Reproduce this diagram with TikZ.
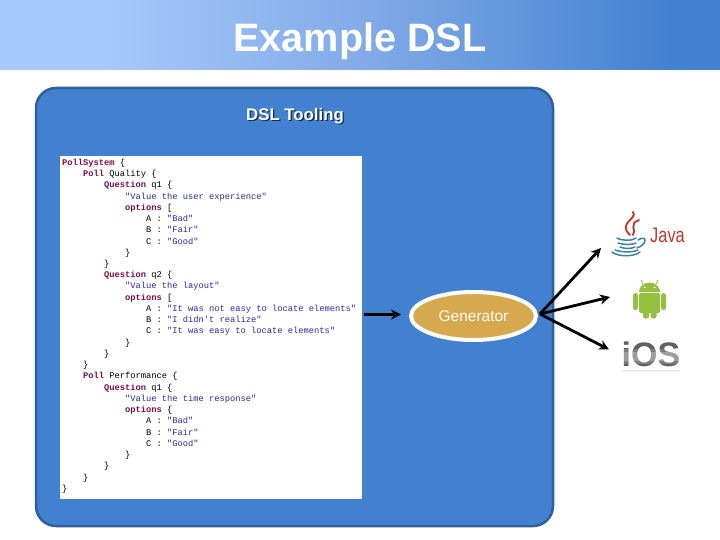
\documentclass[tikz,border=0pt]{standalone}
\usepackage{fontspec}
\setmainfont{Liberation Sans}
\setmonofont{Liberation Mono}
\usetikzlibrary{arrows.meta,shapes.geometric}
\definecolor{panelblue}{HTML}{4280D0}
\definecolor{paneledge}{HTML}{2F5F9C}
\definecolor{barlight}{HTML}{A6C9FB}
\definecolor{barmid}{HTML}{82ABE8}
\definecolor{kwcol}{HTML}{7A0F50}
\definecolor{strcol}{HTML}{2A2AA5}
\definecolor{gold}{HTML}{D7A94F}
\definecolor{droid}{HTML}{95BF3E}
\definecolor{javared}{HTML}{C0392B}
\definecolor{javablue}{HTML}{3F7F9F}
\pgfdeclarehorizontalshading{titlebar}{100bp}{color(0bp)=(barlight); color(25bp)=(barlight); color(32bp)=(barlight); color(50bp)=(barmid); color(72bp)=(panelblue); color(100bp)=(panelblue)}
\newcommand{\kw}[1]{\textcolor{kwcol}{\bfseries #1}}
\newcommand{\st}[1]{\textcolor{strcol}{#1}}
\newcommand{\ind}[1]{\hspace*{#1\dimexpr 21pt\relax}}
\tikzset{
  conn/.style={draw=black,line width=2.8pt,-{Stealth[length=10pt,width=10pt]}},
  codetext/.style={font=\ttfamily\fontsize{8.75pt}{11.24pt}\selectfont,align=left,inner sep=0pt,anchor=north west},
  steam/.style={draw=javared,line width=1.9pt,line cap=round},
  cupline/.style={draw=javablue,line width=1.5pt,line cap=round},
  droidpart/.style={fill=droid,draw=none}
}
\begin{document}
\begin{tikzpicture}[x=1pt,y=-1pt]
\useasboundingbox (0,0) rectangle (720,540);
\fill[white] (0,0) rectangle (720,540);
\shade[shading=titlebar] (0,0) rectangle (720,70);
\node[font=\bfseries\fontsize{39.6pt}{44pt}\selectfont,text=white,inner sep=0pt] (title) at (360,41) {Example DSL};
\draw[fill=panelblue,draw=paneledge,line width=2.5pt,rounded corners=20pt] (36,88) rectangle (553,526);
\node[font=\bfseries\fontsize{16.8pt}{20pt}\selectfont,text=white,inner sep=0pt] (tooling) at (295,117)
  {\rlap{\raisebox{-1.3pt}{\hspace{1.3pt}\textcolor{paneledge!50!black}{DSL Tooling}}}DSL Tooling};
\fill[white] (60,156) rectangle (361.5,499);
\node[codetext] (code) at (62,158.8) {%
\kw{PollSystem} \{\\
\ind{1}\kw{Poll} Quality \{\\
\ind{2}\kw{Question} q1 \{\\
\ind{3}\st{"Value the user experience"}\\
\ind{3}\kw{options} [\\
\ind{4}A : \st{"Bad"}\\
\ind{4}B : \st{"Fair"}\\
\ind{4}C : \st{"Good"}\\
\ind{3}\}\\
\ind{2}\}\\
\ind{2}\kw{Question} q2 \{\\
\ind{3}\st{"Value the layout"}\\
\ind{3}\kw{options} [\\
\ind{4}A : \st{"It was not easy to locate elements"}\\
\ind{4}B : \st{"I didn't realize"}\\
\ind{4}C : \st{"It was easy to locate elements"}\\
\ind{3}\}\\
\ind{2}\}\\
\ind{1}\}\\
\ind{1}\kw{Poll} Performance \{\\
\ind{2}\kw{Question} q1 \{\\
\ind{3}\st{"Value the time response"}\\
\ind{3}\kw{options} \{\\
\ind{4}A : \st{"Bad"}\\
\ind{4}B : \st{"Fair"}\\
\ind{4}C : \st{"Good"}\\
\ind{3}\}\\
\ind{2}\}\\
\ind{1}\}\\
\}};
\node[ellipse,draw=white,fill=gold,line width=4pt,minimum width=125pt,minimum height=48pt,inner sep=0pt,text=white!92!gold,font=\fontsize{15.5pt}{18pt}\selectfont] (generator) at (473.5,316) {Generator};
\coordinate (inA) at (364,314.5);
\coordinate (inB) at (401,314.5);
\coordinate (outS) at (540,314);
\coordinate (javaT) at (601,248);
\coordinate (droidT) at (610,297);
\coordinate (iosT) at (609,349.5);
\draw[conn] (inA) -- (inB);
\draw[conn] (outS) -- (javaT);
\draw[conn] (outS) -- (droidT);
\draw[conn] (outS) -- (iosT);
% Java logo
\draw[steam] (633,212) .. controls (638,219) and (617,223) .. (630,235);
\draw[steam] (639,220) .. controls (628,224) and (637,230) .. (633,235);
\draw[cupline] (617,238) .. controls (622,241) and (632,241) .. (636,238);
\draw[cupline] (618,243) .. controls (624,245) and (632,245) .. (636,243);
\draw[cupline] (620,247) .. controls (625,249) and (631,249) .. (635,247);
\draw[cupline] (615,250) .. controls (620,252) and (632,253) .. (638,250);
\draw[cupline] (612,252) .. controls (618,257) and (634,257) .. (640,252);
\draw[cupline] (638,240) .. controls (648,234) and (647,245) .. (637,248);
\node[font=\fontsize{21pt}{23pt}\selectfont,text=javared,inner sep=0pt,xscale=0.78] (java) at (667.5,235.5) {Java};
% Android logo
\fill[droidpart] (639,292) arc[start angle=180,end angle=360,x radius=10.5,y radius=9.5] -- cycle;
\draw[droid,line width=0.9pt] (643,284) -- (641,280);
\draw[droid,line width=0.9pt] (656,284) -- (658,280);
\fill[white] (644.5,287.5) circle (1);
\fill[white] (654.5,287.5) circle (1);
\fill[droidpart,rounded corners=1.5pt] (639,293) rectangle (660,313);
\fill[droidpart,rounded corners=2.4pt] (633,293) rectangle (638,310);
\fill[droidpart,rounded corners=2.4pt] (661,293) rectangle (666,310);
\fill[droidpart,rounded corners=2.4pt] (643,308) rectangle (649,318.5);
\fill[droidpart,rounded corners=2.4pt] (650.5,308) rectangle (656.5,318.5);
% iOS logo
\node[font=\bfseries\fontsize{34pt}{36pt}\selectfont,text=black!62,inner sep=0pt] (ios) at (651,354) {iOS};
\fill[white,opacity=.18] (620,349) rectangle (684,364);
\fill[white,opacity=.25] (620,352) rectangle (684,361);
\fill[black,opacity=.08] (622,370) rectangle (680,371.5);
\end{tikzpicture}
\end{document}
